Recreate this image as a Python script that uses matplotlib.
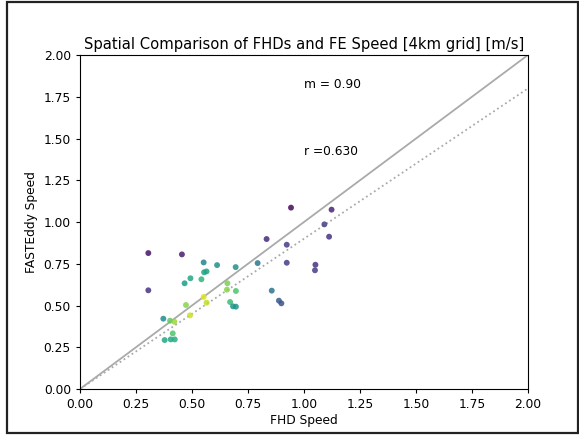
import numpy as np
import matplotlib
matplotlib.use("Agg")
import matplotlib.pyplot as plt
from matplotlib.patches import Rectangle

# FHD vs FASTEddy speed
fhd = [0.305, 0.305, 0.455, 0.833, 0.552, 0.612, 0.695, 0.793, 0.554, 0.565,
       0.493, 0.542, 0.467, 0.658, 0.656, 0.696, 0.552, 0.565, 0.473, 0.670,
       0.683, 0.696, 0.491, 0.372, 0.402, 0.421, 0.414, 0.378, 0.405, 0.423,
       0.942, 1.123, 1.091, 1.112, 0.923, 0.923, 1.051, 1.049, 0.856, 0.888,
       0.899]
fe = [0.814, 0.591, 0.806, 0.898, 0.758, 0.742, 0.730, 0.754, 0.699, 0.704,
      0.663, 0.657, 0.633, 0.633, 0.595, 0.587, 0.551, 0.517, 0.503, 0.521,
      0.495, 0.493, 0.441, 0.421, 0.409, 0.403, 0.333, 0.293, 0.297, 0.297,
      1.086, 1.074, 0.986, 0.912, 0.864, 0.756, 0.744, 0.711, 0.589, 0.529,
      0.513]
# colour variable (viridis 0..1)
cval = [0.05, 0.15, 0.08, 0.12, 0.45, 0.50, 0.50, 0.40, 0.58, 0.58,
        0.60, 0.65, 0.55, 0.80, 0.82, 0.72, 0.95, 0.90, 0.82, 0.68,
        0.52, 0.52, 0.92, 0.48, 0.75, 0.85, 0.72, 0.60, 0.60, 0.62,
        0.02, 0.10, 0.18, 0.15, 0.18, 0.18, 0.15, 0.18, 0.38, 0.28,
        0.25]
slope = 0.90
r_val = 0.630

fs = 8.8
fig = plt.figure(figsize=(5.79, 4.36), dpi=100)
ax = fig.add_axes([80 / 579, 47 / 436, 448 / 579, 334 / 436])

xx = np.array([0, 2])
ax.plot(xx, xx, color="#aaaaaa", lw=1.3, zorder=1)
ax.plot(xx, slope * xx, color="#aaaaaa", lw=1.3, ls=":", zorder=1)
ax.scatter(fhd, fe, c=cval, cmap="viridis", vmin=0, vmax=1, s=18,
           alpha=0.85, linewidths=0, zorder=2)

ax.text(1.0, 1.8, f"m = {slope:.2f}", fontsize=fs)
ax.text(1.0, 1.4, f"r ={r_val:.3f}", fontsize=fs)

ax.set_xlim(0, 2)
ax.set_ylim(0, 2)
ax.set_xticks(np.arange(0, 2.01, 0.25))
ax.set_yticks(np.arange(0, 2.01, 0.25))
ax.tick_params(labelsize=fs, length=3)
ax.set_xlabel("FHD Speed", fontsize=fs, labelpad=2)
ax.set_ylabel("FASTEddy Speed", fontsize=fs)
ax.set_title("Spatial Comparison of FHDs and FE Speed [4km grid] [m/s]",
             fontsize=10.6, pad=4)

# screenshot frame
fig.add_artist(Rectangle((7 / 579, 3 / 436), 571 / 579, 431 / 436,
                         transform=fig.transFigure, fill=False,
                         edgecolor="#222222", lw=1.6))

fig.savefig("out.png", dpi=100)
